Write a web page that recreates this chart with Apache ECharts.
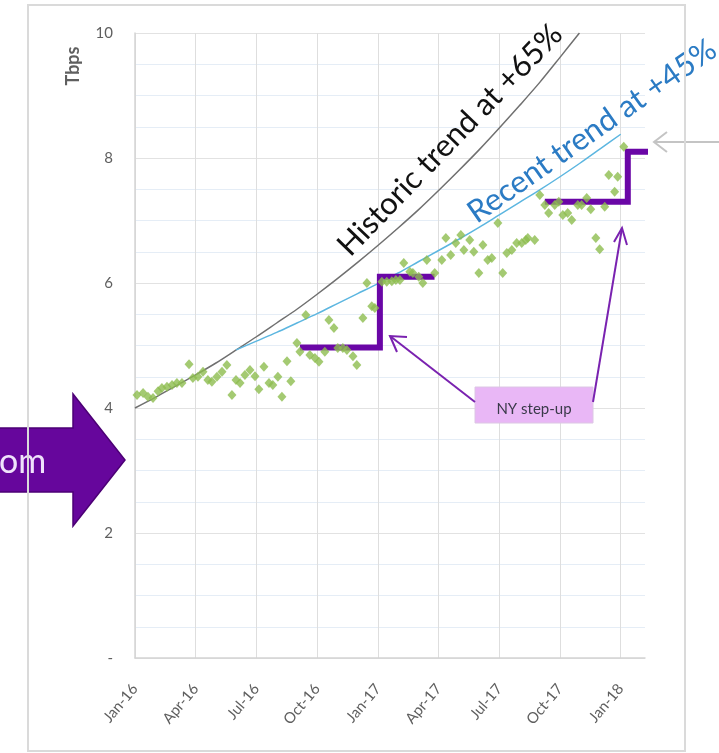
<!DOCTYPE html>
<html>
<head>
<meta charset="utf-8">
<script src="https://cdn.jsdelivr.net/npm/echarts@6/dist/echarts.min.js"></script>
<style>
  html, body { margin: 0; padding: 0; background: #ffffff; }
  #chart { width: 719px; height: 753px; }
</style>
</head>
<body>
<div id="chart"></div>
<script>
// Quarterly tick labels; x is measured in months since Jan-16
const tickLabels = ['Jan-16', 'Apr-16', 'Jul-16', 'Oct-16', 'Jan-17', 'Apr-17', 'Jul-17', 'Oct-17', 'Jan-18'];

// Historic growth trend (+65% / year)
const historicMonths = [0, 1, 2, 3, 4, 5, 6, 7, 8, 9, 10, 11, 12, 13, 14, 15, 16, 17, 18, 19, 20, 21, 21.96];
const historicValues = [4.00, 4.17, 4.35, 4.53, 4.72, 4.93, 5.14, 5.36, 5.58, 5.82, 6.07, 6.33, 6.60, 6.88, 7.17, 7.48, 7.80, 8.13, 8.48, 8.84, 9.21, 9.61, 10.00];

// Recent growth trend (+45% / year)
const recentMonths = [5, 6, 7, 8, 9, 10, 11, 12, 13, 14, 15, 16, 17, 18, 19, 20, 21, 22, 23, 24];
const recentValues = [4.93, 5.07, 5.21, 5.36, 5.51, 5.67, 5.83, 5.99, 6.16, 6.34, 6.52, 6.70, 6.89, 7.09, 7.29, 7.49, 7.70, 7.92, 8.15, 8.38];

// Weekly traffic samples (Tbps)
const sampleMonths = [
  0.10, 0.40, 0.64, 0.89, 1.14, 1.33, 1.58, 1.83, 2.07, 2.32, 2.67, 2.86, 3.11, 3.36, 3.60, 3.80, 4.05,
  4.30, 4.54, 4.79, 4.99, 5.19, 5.43, 5.68, 5.93, 6.12, 6.37, 6.62, 6.81, 7.06, 7.26, 7.51, 7.70, 8.00,
  8.15, 8.44, 8.64, 8.89, 9.09, 9.38, 9.58, 9.83, 10.02,
  10.27, 10.47, 10.77, 10.96, 11.26, 11.46, 11.70, 11.85, 12.20, 12.44, 12.69, 12.89, 13.09, 13.28,
  13.58, 13.73, 14.02, 14.22, 14.42, 14.81,
  15.16, 15.36, 15.60, 15.85, 16.10, 16.25, 16.54, 16.74, 16.99, 17.19, 17.43, 17.63, 17.93, 18.17,
  18.37, 18.62, 18.86, 19.11, 19.31,
  19.41, 19.75, 20.00, 20.25, 20.44, 20.74, 20.94, 21.14, 21.38, 21.58, 21.88, 22.07, 22.32, 22.52,
  22.77, 22.96, 23.21, 23.41, 23.70, 23.85, 24.15
];
const sampleValues = [
  4.21, 4.24, 4.18, 4.16, 4.27, 4.32, 4.34, 4.37, 4.40, 4.40, 4.70, 4.48, 4.50, 4.58, 4.45, 4.42, 4.50,
  4.58, 4.69, 4.21, 4.45, 4.40, 4.53, 4.61, 4.51, 4.30, 4.66, 4.40, 4.37, 4.50, 4.18, 4.75, 4.43, 5.04,
  4.90, 5.49, 4.85, 4.80, 4.74, 4.90, 5.41, 5.28, 4.96,
  4.96, 4.93, 4.83, 4.69, 5.44, 6.00, 5.63, 5.60, 6.02, 6.02, 6.03, 6.05, 6.05, 6.32,
  6.18, 6.16, 6.10, 6.00, 6.37, 6.16,
  6.37, 6.72, 6.45, 6.64, 6.77, 6.53, 6.69, 6.50, 6.16, 6.61, 6.37, 6.40, 6.96, 6.16,
  6.48, 6.53, 6.64, 6.64, 6.69,
  6.72, 6.69, 7.41, 7.25, 7.12, 7.25, 7.30, 7.09, 7.12, 7.01, 7.25, 7.25, 7.36, 7.18,
  6.72, 6.54, 7.22, 7.73, 7.46, 7.70, 8.18
];

// New York capacity step-ups
const stepOneMonths = [8.15, 12.1, 12.1, 14.8];
const stepOneValues = [4.97, 4.97, 6.10, 6.10];
const stepTwoMonths = [20.25, 24.35, 24.35, 25.43];
const stepTwoValues = [7.30, 7.30, 8.10, 8.10];

const pairs = (xs, ys) => xs.map((x, i) => [x, ys[i]]);
const FONT = 'Lato, "Open Sans", sans-serif';
const PURPLE = '#6a06a6';

const chart = echarts.init(document.getElementById('chart'), null, { renderer: 'canvas' });

chart.setOption({
  animation: false,
  backgroundColor: '#ffffff',
  grid: { left: 135, right: 74, top: 33, bottom: 95, containLabel: false },
  xAxis: {
    type: 'value', min: 0, max: 25.2, interval: 3,
    axisLine: { show: true, lineStyle: { color: '#d4d4d4', width: 1.5 } },
    axisTick: { show: false },
    splitLine: { show: true, showMaxLine: false, lineStyle: { color: '#dedede', width: 1 } },
    axisLabel: {
      rotate: 50, margin: 28, color: '#5f5f5f', fontSize: 15, fontFamily: FONT,
      showMaxLabel: false,
      formatter: v => (Math.abs(v % 3) < 1e-6 ? (tickLabels[Math.round(v / 3)] || '') : '')
    }
  },
  yAxis: {
    type: 'value', min: 0, max: 10, interval: 2,
    axisLine: { show: true, lineStyle: { color: '#d4d4d4', width: 1.5 } },
    axisTick: { show: false },
    axisLabel: {
      color: '#5f5f5f', fontSize: 15, fontFamily: FONT, margin: 22,
      formatter: v => (v === 0 ? '-' : String(v))
    },
    splitLine: { show: true, lineStyle: { color: '#e2e2e2', width: 1.2 } },
    minorTick: { show: false, splitNumber: 4 },
    minorSplitLine: { show: true, lineStyle: { color: '#e5edf6', width: 1.2 } }
  },
  series: [
    {
      type: 'line', name: 'Historic', data: pairs(historicMonths, historicValues),
      smooth: 0.3, symbol: 'none', z: 3,
      lineStyle: { color: '#707070', width: 1.5 }
    },
    {
      type: 'line', name: 'Recent', data: pairs(recentMonths, recentValues),
      smooth: 0.3, symbol: 'none', z: 3,
      lineStyle: { color: '#5cb6e0', width: 1.5 }
    },
    {
      type: 'line', name: 'Step 1', data: pairs(stepOneMonths, stepOneValues),
      symbol: 'none', clip: false, z: 4,
      lineStyle: { color: PURPLE, width: 6, cap: 'butt', join: 'miter' }
    },
    {
      type: 'line', name: 'Step 2', data: pairs(stepTwoMonths, stepTwoValues),
      symbol: 'none', clip: false, z: 4,
      lineStyle: { color: PURPLE, width: 6, cap: 'butt', join: 'miter' }
    },
    {
      type: 'scatter', name: 'Traffic', data: pairs(sampleMonths, sampleValues),
      symbol: 'diamond', symbolSize: [9, 10], z: 5,
      itemStyle: { color: '#8dbd4f' }
    }
  ],
  graphic: [
    // large purple arrow entering from the left
    {
      type: 'polygon', z: 20,
      shape: { points: [[-5, 428], [73, 428], [73, 394], [125, 460], [73, 526], [73, 492], [-5, 492]] },
      style: { fill: '#66069c', stroke: '#4c0075', lineWidth: 1.5 }
    },
    {
      type: 'text', z: 21, x: -1, y: 462,
      style: { text: 'om', fill: '#efe2fb', font: '34px ' + FONT, align: 'left', verticalAlign: 'middle' }
    },
    // outer frame
    {
      type: 'rect', z: 22,
      shape: { x: 28, y: 5, width: 657, height: 746 },
      style: { fill: 'none', stroke: '#dadada', lineWidth: 2 }
    },
    // axis title
    {
      type: 'text', z: 21, x: 73, y: 66, rotation: Math.PI / 2,
      style: { text: 'Tbps', fill: '#5f5f5f', font: 'bold 18px ' + FONT, align: 'center', verticalAlign: 'middle' }
    },
    // trend annotations
    {
      type: 'text', z: 21, x: 450, y: 140, rotation: 46 * Math.PI / 180,
      style: { text: 'Historic trend at +65%', fill: '#111111', font: '31px ' + FONT, align: 'center', verticalAlign: 'middle' }
    },
    {
      type: 'text', z: 21, x: 592, y: 131, rotation: 35 * Math.PI / 180,
      style: { text: 'Recent trend at +45%', fill: '#2b7bc4', font: '31px ' + FONT, align: 'center', verticalAlign: 'middle' }
    },
    // callout
    {
      type: 'rect', z: 21,
      shape: { x: 475, y: 387, width: 118, height: 36 },
      style: { fill: '#e9b7f6', stroke: '#dcc6e4', lineWidth: 1 }
    },
    {
      type: 'text', z: 22, x: 534, y: 409,
      style: { text: 'NY step-up', fill: '#3a3a4a', font: '15px ' + FONT, align: 'center', verticalAlign: 'middle' }
    },
    {
      type: 'polyline', z: 21,
      shape: { points: [[475, 402], [390, 336]] },
      style: { stroke: '#7a22b0', lineWidth: 2 }
    },
    {
      type: 'polyline', z: 21,
      shape: { points: [[407, 337], [390, 336], [397, 352]] },
      style: { stroke: '#7a22b0', lineWidth: 2, fill: 'none' }
    },
    {
      type: 'polyline', z: 21,
      shape: { points: [[593, 402], [622, 228]] },
      style: { stroke: '#7a22b0', lineWidth: 2 }
    },
    {
      type: 'polyline', z: 21,
      shape: { points: [[614, 242], [622, 228], [627, 245]] },
      style: { stroke: '#7a22b0', lineWidth: 2, fill: 'none' }
    },
    // grey pointer on the right
    {
      type: 'polyline', z: 21,
      shape: { points: [[719, 142], [654, 142]] },
      style: { stroke: '#c4c4c4', lineWidth: 2 }
    },
    {
      type: 'polyline', z: 21,
      shape: { points: [[667, 132], [654, 142], [667, 152]] },
      style: { stroke: '#c4c4c4', lineWidth: 2, fill: 'none' }
    }
  ]
});
</script>
</body>
</html>
